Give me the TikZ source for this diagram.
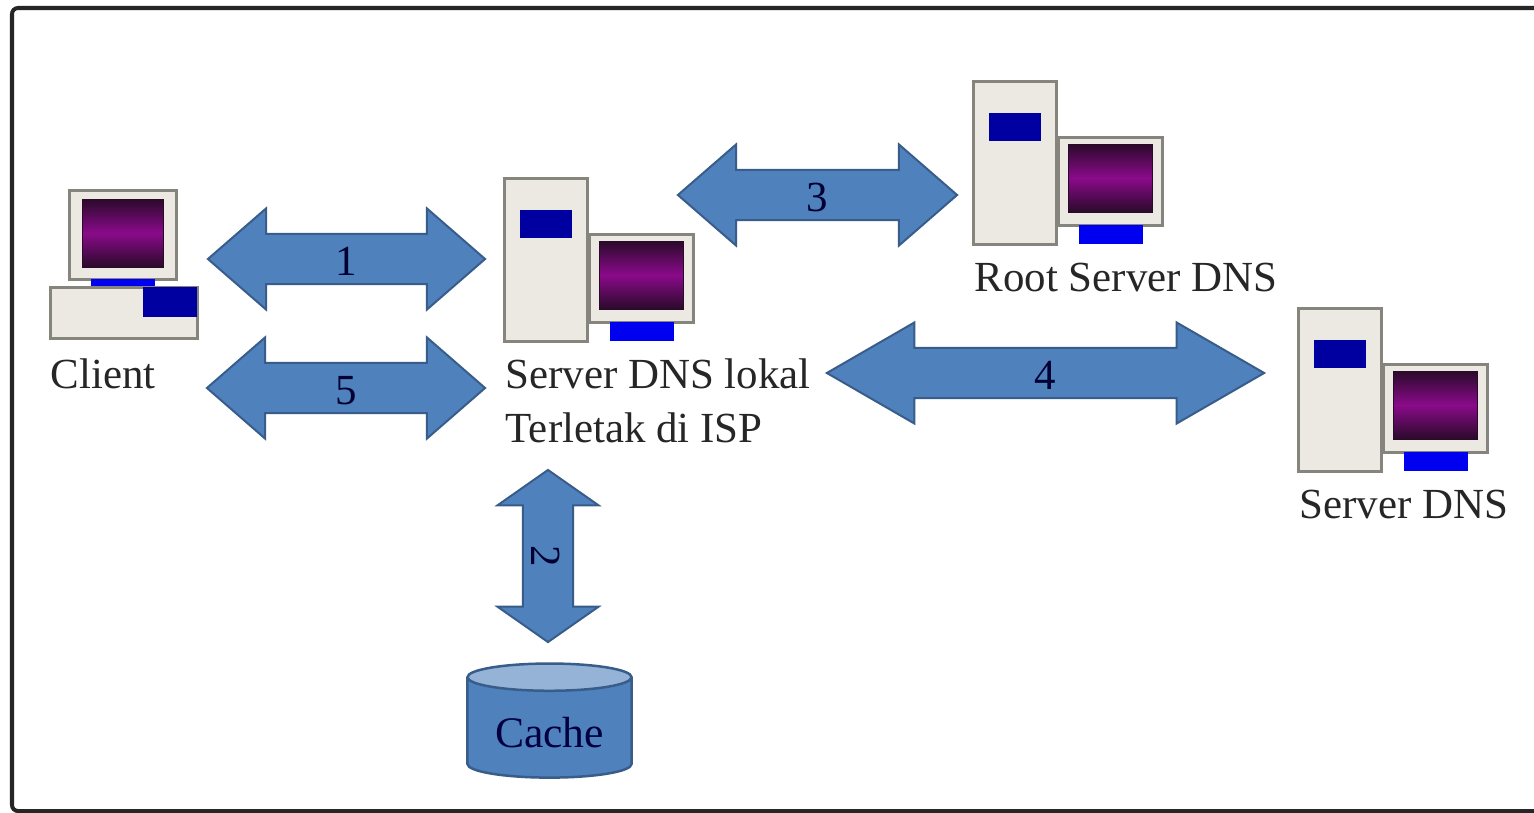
\documentclass[tikz,border=0pt]{standalone}
\usepackage{fontspec}
\setmainfont{Liberation Serif}
\usepackage{tikz}
\usetikzlibrary{shapes.arrows,shapes.geometric}
\definecolor{arrowblue}{HTML}{4F81BD}
\definecolor{arrowline}{HTML}{385D8A}
\definecolor{caselight}{HTML}{EBE9E2}
\definecolor{caseline}{HTML}{85857D}
\definecolor{tabblue}{HTML}{0000A0}
\definecolor{standblue}{HTML}{0000F0}
\definecolor{screenpurple}{HTML}{8A0A8A}
\definecolor{screendark}{HTML}{2A0A2A}
\tikzset{
  casebox/.style={draw=caseline, fill=caselight, line width=.03cm},
  tabbox/.style={fill=tabblue},
  standbox/.style={fill=standblue},
  screenbox/.style={draw=screendark, line width=.01cm, top color=screendark, bottom color=screendark, middle color=screenpurple},
  linkarrow/.style={shape=double arrow, draw=arrowline, fill=arrowblue, line width=.02cm,
    double arrow head extend=.255cm, inner xsep=0, inner ysep=.075cm, text height=.33cm, text depth=0,
    anchor=center, font=\fontsize{12.2}{12.2}\selectfont, text=black!80!blue},
  label/.style={font=\fontsize{12.2}{16}\selectfont, text=black!85, inner sep=0, anchor=west}
}
\begin{document}
\begin{tikzpicture}[x=.01cm, y=-.01cm]
        \useasboundingbox (0, 0) rectangle (1534, 812);
        \fill[white] (0, 0) rectangle (1534, 812);
        \draw[line width=.04cm, color=black!85, rounded corners=.06cm] (12, 8) rectangle (1560, 811);
        % client
        \draw[casebox] (69, 190) rectangle (176, 279);
        \shade[screenbox] (82, 199) rectangle (163, 267);
        \fill[standbox] (91, 279) rectangle (155, 287);
        \draw[casebox] (50, 287) rectangle (197, 338);
        \fill[tabbox] (143, 287) rectangle (197, 317);
        % the three servers
        \foreach \x/\y in {0/0, 469/-97, 794/130}{
          \begin{scope}[shift={(\x, \y)}]
            \draw[casebox] (504, 178) rectangle (587, 341);
            \fill[tabbox] (520, 210) rectangle (572, 238);
            \draw[casebox] (589, 234) rectangle (693, 322);
            \shade[screenbox] (599, 241) rectangle (683, 309);
            \fill[standbox] (610, 322) rectangle (674, 341);
          \end{scope}
        };
        \node[label] (client) at (50, 374) {Client};
        \node[label] (local) at (505, 374) {Server DNS lokal};
        \node[label] (isp) at (505, 428) {Terletak di ISP};
        \node[label] (root) at (974, 278) {Root Server DNS};
        \node[label] (dns) at (1299, 504) {Server DNS};
        \node[linkarrow, minimum height=2.77cm, double arrow tip angle=82] (one) at (346.5, 259) {1};
        \node[linkarrow, minimum height=2.78cm, double arrow tip angle=82] (five) at (346, 388) {5};
        \node[linkarrow, minimum height=2.79cm, double arrow tip angle=82] (three) at (817.5, 195) {3};
        \node[linkarrow, minimum height=4.37cm, double arrow tip angle=60] (four) at (1045.5, 373) {4};
        \node[linkarrow, minimum height=1.72cm, double arrow tip angle=110, rotate=-90] (two) at (548, 556) {2};
        \node[shape=cylinder, shape border rotate=90, aspect=.25, draw=arrowline, line width=.025cm,
          cylinder uses custom fill, cylinder body fill=arrowblue, cylinder end fill=arrowblue!60!white,
          minimum width=1.64cm, minimum height=1.14cm, inner sep=0, text=black!75!blue, text height=.38cm, text depth=0,
          font=\fontsize{12.4}{14}\selectfont] (cache) at (549.5, 728) {Cache};
\end{tikzpicture}
\end{document}
